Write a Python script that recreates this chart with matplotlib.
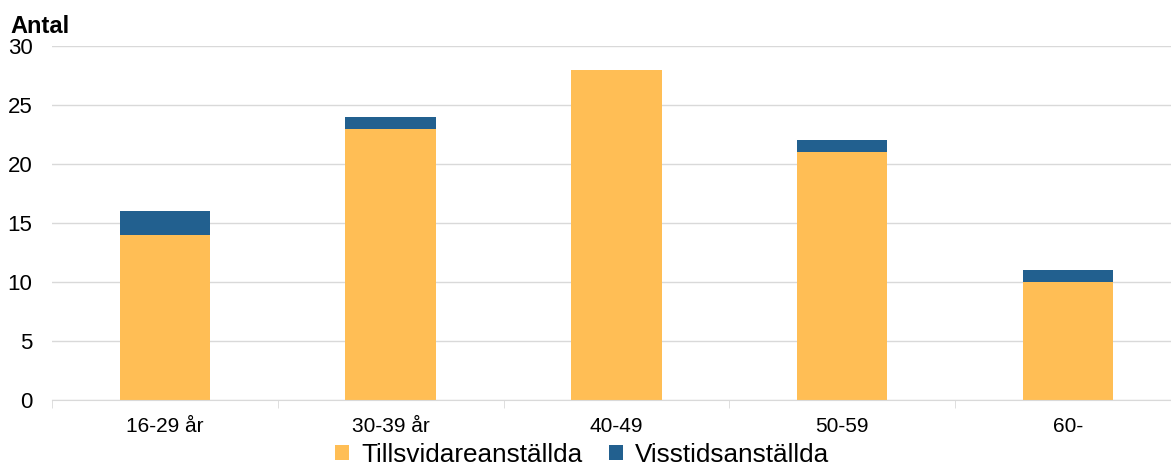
import matplotlib.pyplot as plt
import numpy as np

categories = ['16-29 år', '30-39 år', '40-49', '50-59', '60-']
tillsvidare = [14, 23, 28, 21, 10]
visstid = [2, 1, 0, 1, 1]

plt.rcParams['font.family'] = ['Liberation Sans', 'DejaVu Sans']

fig = plt.figure(figsize=(11.71, 4.68), dpi=100)
# axes runs slightly past the right edge, like the original
ax = fig.add_axes([0.0444, 0.1453, 0.964, 0.7564])

x = np.arange(len(categories))
ax.bar(x, tillsvidare, width=0.4, color='#FFBE55', label='Tillsvidareanställda', zorder=2)
ax.bar(x, visstid, width=0.4, bottom=tillsvidare, color='#22608F', label='Visstidsanställda', zorder=2)

ax.set_xlim(-0.5, len(categories) - 0.5)
ax.set_ylim(0, 30)
ax.set_yticks(range(0, 31, 5))
ax.grid(axis='y', color='#d9d9d9', linewidth=1, zorder=0)

ax.set_xticks(x)
ax.set_xticklabels(categories, fontsize=15)
ax.set_xticks(np.arange(-0.5, len(categories)), minor=True)
ax.tick_params(axis='x', which='major', length=0, pad=12)
ax.tick_params(axis='x', which='minor', length=6, color='#d9d9d9')
ax.tick_params(axis='y', length=0, labelsize=16, pad=14)

for s in ['top', 'right', 'left']:
    ax.spines[s].set_visible(False)
ax.spines['bottom'].set_color('#d9d9d9')

fig.text(0.009, 0.93, 'Antal', fontsize=17, fontweight='bold')

fig.legend(*ax.get_legend_handles_labels(), loc='lower center', bbox_to_anchor=(0.497, 0.0),
           ncol=2, frameon=False, fontsize=18.8, handlelength=0.55, handleheight=0.55,
           handletextpad=0.45, columnspacing=1.0, borderpad=0.05, borderaxespad=0)

fig.savefig('out.png', dpi=100)
